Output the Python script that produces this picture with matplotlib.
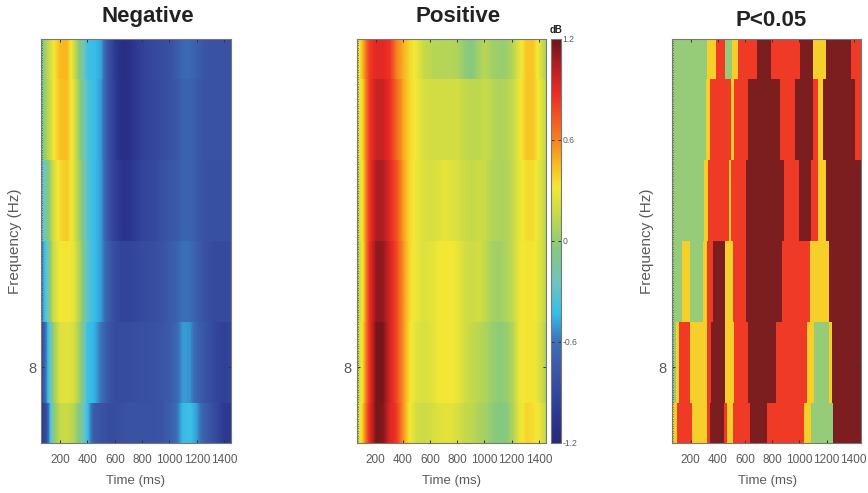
import numpy as np
import matplotlib as mpl
mpl.use('Agg')
import matplotlib.pyplot as plt
from matplotlib.colors import LinearSegmentedColormap, ListedColormap, Normalize

plt.rcParams['font.family'] = ['Liberation Sans', 'DejaVu Sans']

W, H = 868.0, 493.0

## time columns and frequency rows (rows go bottom to top)
times = np.arange(50, 1451, 50)
freq_edges = [7, 7.5, 8.5, 9.5, 10.5, 11.5, 12]
time_ticks = [200, 400, 600, 800, 1000, 1200, 1400]

neg_row0 = [-1.05, -.85, -.05, .15, .18, .1, -.1, -.4, -.75, -.8, -.85, -.85, -.82, -.8, -.8, -.8, -.8, -.8, -.78, -.72, -.62, -.42, -.4, -.5, -.7, -.8, -.9, -1.02, -1.02]
neg_row1 = [-1.0, -.55, 0, .24, .26, .22, 0, -.4, -.45, -.6, -.78, -.85, -.85, -.85, -.83, -.82, -.82, -.8, -.78, -.75, -.65, -.5, -.52, -.68, -.78, -.85, -.92, -.95, -.92]
neg_row2 = [-.7, -.3, .18, .32, .33, .27, .05, -.3, -.42, -.5, -.72, -.85, -.92, -.92, -.9, -.87, -.85, -.83, -.8, -.75, -.7, -.6, -.62, -.72, -.8, -.85, -.88, -.88, -.85]
neg_row3 = [-.4, -.15, .2, .36, .42, .25, 0, -.32, -.42, -.5, -.78, -.95, -1.05, -1.05, -1.0, -.92, -.9, -.88, -.82, -.78, -.75, -.68, -.68, -.75, -.8, -.82, -.82, -.82, -.82]
neg_row4 = [-.15, .05, .3, .44, .45, .25, -.05, -.33, -.42, -.5, -.8, -.98, -1.12, -1.12, -1.02, -.95, -.92, -.9, -.85, -.82, -.78, -.68, -.68, -.75, -.8, -.8, -.8, -.8, -.8]
neg_row5 = [-.15, .08, .3, .46, .47, .2, -.1, -.38, -.42, -.48, -.8, -1.0, -1.13, -1.12, -1.02, -.95, -.9, -.88, -.85, -.82, -.75, -.65, -.65, -.72, -.78, -.8, -.8, -.8, -.8]
negative = [neg_row0, neg_row1, neg_row2, neg_row3, neg_row4, neg_row5]

pos_row0 = [.08, .4, .88, 1.17, 1.15, .93, .82, .55, .3, .2, .18, .2, .24, .26, .26, .22, .15, .13, .08, .05, -.02, -.05, -.05, .08, .28, .38, .35, .28, .12]
pos_row1 = [.03, .35, .85, 1.17, 1.17, .95, .78, .55, .33, .25, .22, .25, .3, .32, .32, .28, .2, .15, .12, .08, .02, -.02, 0, .1, .3, .33, .33, .22, .05]
pos_row2 = [0, .32, .85, 1.12, 1.12, .95, .78, .55, .35, .28, .24, .26, .3, .32, .32, .28, .2, .18, .2, .15, .05, .03, .08, .15, .3, .33, .33, .25, .1]
pos_row3 = [.05, .35, .82, 1.05, 1.05, .9, .75, .52, .36, .28, .24, .22, .24, .28, .25, .22, .18, .15, .18, .16, .1, .08, .08, .15, .28, .36, .36, .25, .1]
pos_row4 = [.12, .38, .82, .98, .98, .87, .68, .5, .36, .3, .22, .2, .2, .2, .2, .2, .15, .13, .13, .17, .12, .08, .1, .15, .3, .42, .42, .28, .1]
pos_row5 = [.15, .45, .82, .9, .9, .85, .6, .48, .36, .28, .16, .12, .1, .1, .1, .08, -.02, -.05, .05, .12, .04, .02, .02, .1, .28, .42, .42, .25, .05]
positive = [pos_row0, pos_row1, pos_row2, pos_row3, pos_row4, pos_row5]

## P<0.05 map: segment ends in ms and class (0 green, 1 yellow, 2 red, 3 dark red)
p_edges0 = [60, 66, 100, 212, 320, 341, 446, 468, 512, 639, 759, 1034, 1085, 1251, 1450]
p_cats0 = [0, 1, 2, 1, 2, 3, 2, 1, 2, 3, 2, 1, 0, 3]
p_edges1 = [60, 95, 115, 198, 322, 349, 456, 517, 622, 827, 1054, 1110, 1215, 1237, 1450]
p_cats1 = [0, 1, 2, 1, 2, 3, 1, 2, 3, 2, 1, 0, 1, 3]
p_edges2 = [60, 134, 198, 290, 322, 363, 451, 512, 605, 873, 1076, 1215, 1450]
p_cats2 = [0, 1, 0, 1, 2, 3, 1, 2, 3, 2, 1, 3]
p_edges3 = [60, 295, 329, 480, 495, 605, 890, 995, 1085, 1134, 1193, 1450]
p_cats3 = [0, 1, 2, 1, 2, 3, 2, 3, 2, 1, 3]
p_edges4 = [60, 315, 344, 495, 520, 622, 859, 966, 1098, 1139, 1176, 1407, 1450]
p_cats4 = [0, 1, 2, 1, 2, 3, 2, 3, 2, 1, 3, 2]
p_edges5 = [60, 322, 385, 456, 505, 546, 685, 788, 1007, 1098, 1193, 1383, 1450]
p_cats5 = [0, 1, 2, 0, 1, 2, 3, 2, 3, 1, 3, 2]
p_edges = [p_edges0, p_edges1, p_edges2, p_edges3, p_edges4, p_edges5]
p_cats = [p_cats0, p_cats1, p_cats2, p_cats3, p_cats4, p_cats5]
p_colors = ['#96cc78', '#f6cf2b', '#ef3b26', '#7c1d1f']

## colormap
cmap_vals = [-1.2, -1.05, -.8, -.6, -.43, -.25, -.05, .15, .32, .45, .6, .87, 1.05, 1.2]
cmap_cols = ['#27297b', '#2b3590', '#3a53a4', '#3b70b8', '#35bdeb', '#6cc5c0', '#84c981', '#c4d94a',
             '#f4e834', '#f9bd22', '#f58220', '#ee2c25', '#b01e22', '#6a1518']
cmap = LinearSegmentedColormap.from_list('db', [((v + 1.2) / 2.4, c) for v, c in zip(cmap_vals, cmap_cols)], N=512)
norm = Normalize(-1.2, 1.2)

GREY = '#5a5a5a'

def px_axes(fig, left, top, right, bottom):
    return fig.add_axes([left / W, 1 - bottom / H, (right - left) / W, (bottom - top) / H])

def px_text(fig, x, y, s, **kw):
    kw.setdefault('ha', 'center')
    kw.setdefault('va', 'center')
    fig.text(x / W, 1 - y / H, s, **kw)

def style(ax):
    ax.set_xlim(60, 1450)
    ax.set_ylim(7, 12)
    ax.set_xticks(time_ticks)
    ax.set_xticklabels(time_ticks, fontsize=8.5, color=GREY)
    ax.set_yticks([7.94])  # tick sits a little under the row centre in the original
    ax.set_yticklabels(['8'], fontsize=10.5, color=GREY)
    ax.set_yticks(np.arange(7, 12, 0.03), minor=True)
    ax.tick_params(which='major', direction='in', length=2.2, width=0.7, top=True, right=True, color='#333333', pad=3.5)
    ax.tick_params(axis='x', pad=8)
    ax.tick_params(which='minor', direction='in', length=0.9, width=0.7, left=True, color='#333333')
    for s in ax.spines.values():
        s.set_color('#777777')
        s.set_linewidth(0.8)

def smooth_panel(ax, rows):
    # one image per row so the smoothing only runs along time
    half = (times[1] - times[0]) / 2
    for i, vals in enumerate(rows):
        ax.imshow(np.vstack([vals, vals]), cmap=cmap, norm=norm, aspect='auto', origin='lower',
                  interpolation='bilinear', interpolation_stage='data',
                  extent=[times[0] - half, times[-1] + half, freq_edges[i], freq_edges[i + 1]])

fig = plt.figure(figsize=(W / 100, H / 100), dpi=100)

ax1 = px_axes(fig, 41, 39, 231, 443)
smooth_panel(ax1, negative)
style(ax1)

ax2 = px_axes(fig, 356.5, 39, 545.6, 443)
smooth_panel(ax2, positive)
style(ax2)

ax3 = px_axes(fig, 671.7, 39, 860.5, 443)
pcat = ListedColormap(p_colors)
for i in range(6):
    ax3.pcolormesh(p_edges[i], [freq_edges[i], freq_edges[i + 1]], [p_cats[i]], cmap=pcat, vmin=-0.5, vmax=3.5)
style(ax3)

## colorbar
cax = px_axes(fig, 550.7, 39, 560.7, 443)
sm = mpl.cm.ScalarMappable(norm=norm, cmap=cmap)
cb = fig.colorbar(sm, cax=cax)
cb.set_ticks([-1.2, -0.6, 0, 0.6, 1.2])
cb.set_ticklabels(['-1.2', '-0.6', '0', '0.6', '1.2'])
cax.tick_params(direction='in', length=2.5, width=0.7, left=True, right=True, labelsize=6.2, labelcolor=GREY, color='#333333', pad=1.5)
cb.outline.set_edgecolor('#777777')
cb.outline.set_linewidth(0.8)

## text
px_text(fig, 148, 22, 'Negative', fontsize=16, fontweight='bold', color='#222222', va='baseline')
px_text(fig, 458, 22, 'Positive', fontsize=16, fontweight='bold', color='#222222', va='baseline')
px_text(fig, 771, 26, 'P<0.05', fontsize=16, fontweight='bold', color='#222222', va='baseline')
px_text(fig, 556, 30, 'dB', fontsize=7, fontweight='bold', color='#222222')
for x in [136, 452, 767]:
    px_text(fig, x, 481, 'Time (ms)', fontsize=9.5, color=GREY)
px_text(fig, 15, 241, 'Frequency (Hz)', fontsize=11, color=GREY, rotation=90)
px_text(fig, 647, 241, 'Frequency (Hz)', fontsize=11, color=GREY, rotation=90)

plt.savefig('out.png', dpi=100)
